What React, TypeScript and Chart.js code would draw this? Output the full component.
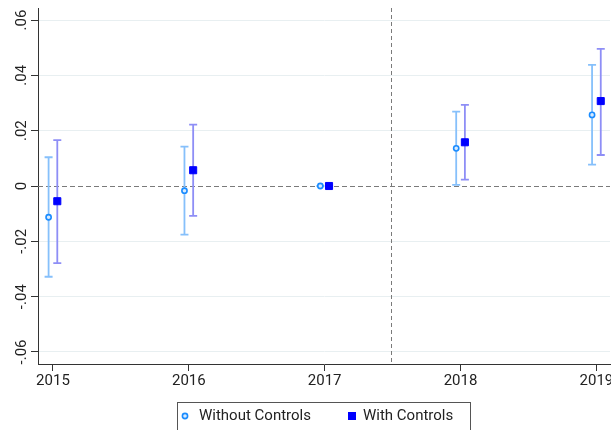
import React, { useEffect, useRef } from 'react';
import { Chart, registerables } from 'chart.js';

Chart.register(...registerables);

// ---- data ----
const years = [2015, 2016, 2017, 2018, 2019];

const withoutEst = [-0.0113, -0.0017, 0, 0.0136, 0.0257];
const withoutLo = [-0.0328, -0.0176, 0, 0.0004, 0.0077];
const withoutHi = [0.0104, 0.0142, 0, 0.0269, 0.0438];

const withEst = [-0.0055, 0.0057, 0, 0.0158, 0.0307];
const withLo = [-0.0279, -0.0108, 0, 0.0023, 0.0112];
const withHi = [0.0166, 0.0222, 0, 0.0293, 0.0496];

const yTickValues = [-0.06, -0.04, -0.02, 0, 0.02, 0.04, 0.06];
const yTickLabels = ['-.06', '-.04', '-.02', '0', '.02', '.04', '.06'];
const seriesLabels = ['Without Controls', 'With Controls'];
const refLineX = 2017.5;
const refLineY = 0;

const FONT = 'Roboto, "Liberation Sans", "DejaVu Sans", sans-serif';
const TEXT = '#222222';
const AXIS = '#333333';

const series = [
  { label: seriesLabels[0], est: withoutEst, lo: withoutLo, hi: withoutHi, dx: -0.032,
    pointStyle: 'circle', radius: 2.6, borderW: 1.6, border: '#1a8cff', fill: '#d8ebff', bar: '#86c0fb' },
  { label: seriesLabels[1], est: withEst, lo: withLo, hi: withHi, dx: 0.032,
    pointStyle: 'rect', radius: 5, borderW: 1, border: '#0000ff', fill: '#0000ff', bar: '#8e8ef6' },
];

export default function App() {
  const ref = useRef<HTMLCanvasElement>(null);

  useEffect(() => {
    const canvas = ref.current!;

    const refAndErrors = {
      id: 'refAndErrors',
      beforeDatasetsDraw(chart: any) {
        const ctx = chart.ctx;
        const xs = chart.scales.x;
        const ys = chart.scales.y;
        const area = chart.chartArea;
        ctx.save();
        // reference lines
        ctx.strokeStyle = '#7a7a7a';
        ctx.lineWidth = 1;
        ctx.setLineDash([5, 3]);
        const y0 = Math.round(ys.getPixelForValue(refLineY)) + 0.5;
        ctx.beginPath();
        ctx.moveTo(area.left, y0);
        ctx.lineTo(area.right, y0);
        ctx.stroke();
        ctx.setLineDash([4, 3]);
        const xr = Math.floor(xs.getPixelForValue(refLineX)) - 0.5;
        ctx.beginPath();
        ctx.moveTo(xr, area.top);
        ctx.lineTo(xr, area.bottom);
        ctx.stroke();
        ctx.setLineDash([]);
        // error bars
        series.forEach((s) => {
          ctx.strokeStyle = s.bar;
          ctx.lineWidth = 1.8;
          years.forEach((yr, i) => {
            const px = xs.getPixelForValue(yr + s.dx);
            const pLo = ys.getPixelForValue(s.lo[i]);
            const pHi = ys.getPixelForValue(s.hi[i]);
            ctx.beginPath();
            ctx.moveTo(px, pLo);
            ctx.lineTo(px, pHi);
            ctx.moveTo(px - 4, pLo);
            ctx.lineTo(px + 4, pLo);
            ctx.moveTo(px - 4, pHi);
            ctx.lineTo(px + 4, pHi);
            ctx.stroke();
          });
        });
        ctx.restore();
      },
      afterDraw(chart: any) {
        const ctx = chart.ctx;
        const ys = chart.scales.y;
        ctx.save();
        // rotated y tick labels
        ctx.fillStyle = TEXT;
        ctx.font = `15px ${FONT}`;
        ctx.textAlign = 'center';
        ctx.textBaseline = 'middle';
        yTickValues.forEach((v, i) => {
          const py = ys.getPixelForValue(v);
          ctx.save();
          ctx.translate(22.5, py);
          ctx.rotate(-Math.PI / 2);
          ctx.fillText(yTickLabels[i], 0, 0);
          ctx.restore();
        });
        // legend
        ctx.strokeStyle = '#555555';
        ctx.lineWidth = 1;
        ctx.strokeRect(177.5, 402.5, 293, 40);
        const ly = 416;
        // item 1: circle
        const s0 = series[0];
        ctx.beginPath();
        ctx.arc(185, ly, 2.6, 0, Math.PI * 2);
        ctx.fillStyle = s0.fill;
        ctx.fill();
        ctx.strokeStyle = s0.border;
        ctx.lineWidth = 1.6;
        ctx.stroke();
        ctx.fillStyle = TEXT;
        ctx.textAlign = 'left';
        ctx.fillText(s0.label, 199, ly);
        // item 2: square
        const s1 = series[1];
        ctx.fillStyle = s1.fill;
        ctx.fillRect(348, ly - 4, 8, 8);
        ctx.fillStyle = TEXT;
        ctx.fillText(s1.label, 363, ly);
        ctx.restore();
      },
    };

    const chart = new Chart(canvas, {
      type: 'scatter',
      data: {
        datasets: series.map((s) => ({
          label: s.label,
          data: years.map((yr, i) => ({ x: yr + s.dx, y: s.est[i] })),
          pointStyle: s.pointStyle as any,
          pointRadius: s.radius,
          pointBorderWidth: s.borderW,
          pointBorderColor: s.border,
          pointBackgroundColor: s.fill,
          borderColor: s.border,
          backgroundColor: s.fill,
          showLine: false,
        })),
      },
      options: {
        animation: false,
        responsive: false,
        devicePixelRatio: 1,
        layout: { padding: { left: 0, top: 8, right: 30, bottom: 46 } },
        plugins: {
          legend: { display: false },
          tooltip: { enabled: false },
        },
        scales: {
          x: {
            type: 'linear',
            min: 2014.89,
            max: 2019.1,
            afterBuildTicks: (s: any) => {
              s.ticks = years.map((v) => ({ value: v }));
            },
            afterFit: (s: any) => {
              s.height = 30;
            },
            ticks: {
              color: TEXT,
              font: { family: FONT, size: 15 },
              padding: 1,
              maxRotation: 0,
              minRotation: 0,
              callback: (v: any) => String(v),
            },
            grid: {
              drawOnChartArea: false,
              drawTicks: true,
              tickLength: 7,
              tickColor: AXIS,
            },
            border: { display: true, color: AXIS, width: 1 },
          },
          y: {
            type: 'linear',
            min: -0.06434,
            max: 0.06434,
            afterBuildTicks: (s: any) => {
              s.ticks = yTickValues.map((v) => ({ value: v }));
            },
            afterFit: (s: any) => {
              s.width = 38;
            },
            ticks: { display: false },
            grid: {
              color: (c: any) => (c.tick && c.tick.value === 0 ? 'rgba(0,0,0,0)' : '#e8eff1'),
              drawTicks: true,
              tickLength: 7,
              tickColor: AXIS,
            },
            border: { display: true, color: AXIS, width: 1 },
          },
        },
      },
      plugins: [refAndErrors],
    });

    return () => chart.destroy();
  }, []);

  return (
    <div style={{ position: 'absolute', left: 0, top: 0, width: 640, height: 440 }}>
      <canvas ref={ref} width={640} height={440} style={{ display: 'block' }} />
    </div>
  );
}
